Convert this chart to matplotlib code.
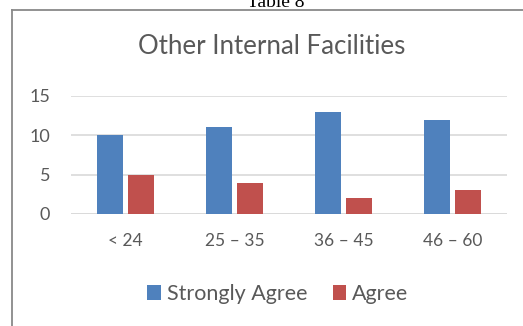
import matplotlib

matplotlib.use("Agg")
import matplotlib.pyplot as plt
import numpy as np
from matplotlib.lines import Line2D

categories = ["< 24", "25 – 35", "36 – 45", "46 – 60"]
strongly_agree = [10, 11, 13, 12]
agree = [5, 4, 2, 3]
y_ticks = [0, 5, 10, 15]

W, H = 523, 326
FONT = "Lato"
TEXT = "#595959"

fig = plt.figure(figsize=(W / 100, H / 100), dpi=100)

# chart frame: only the left and top edges show in the crop
frame_kw = dict(transform=fig.transFigure, color="#898989", lw=1.3)
fig.lines.append(Line2D([12 / W, 12 / W], [0, 1 - 10 / H], **frame_kw))
fig.lines.append(Line2D([12 / W, 1], [1 - 10 / H, 1 - 10 / H], **frame_kw))
fig.text(276 / W, 1 - 7 / H, "Table 8", ha="center", va="baseline",
         fontsize=14, family="Liberation Serif", color="black")

ax = fig.add_axes([71 / W, (H - 214) / H, (507 - 71) / W, (214 - 96) / H])
x = np.arange(len(categories))
bw = 0.23
gap = 0.055
ax.bar(x - (bw + gap) / 2, strongly_agree, width=bw, color="#4f81bd", label="Strongly Agree", zorder=3)
ax.bar(x + (bw + gap) / 2, agree, width=bw, color="#c0504d", label="Agree", zorder=3)

ax.set_xlim(-0.5, len(categories) - 0.5)
ax.set_ylim(0, 15)
ax.set_yticks(y_ticks)
ax.set_yticklabels([str(v) for v in y_ticks], fontsize=13, family=FONT, color=TEXT)
ax.set_xticks(x)
ax.set_xticklabels(categories, fontsize=12.5, family=FONT, color=TEXT)
ax.tick_params(length=0, pad=15, axis="y")
ax.tick_params(length=0, pad=14, axis="x")
ax.yaxis.grid(True, color="#d9d9d9", lw=1.2, zorder=0)
ax.set_axisbelow(True)
for s in ax.spines.values():
    s.set_visible(False)
ax.axhline(0, color="#d9d9d9", lw=1.2, zorder=1)

fig.text(272 / W, 1 - 47 / H, "Other Internal Facilities", ha="center", va="center",
         fontsize=18.6, family=FONT, color=TEXT)

fig.legend(loc="center", bbox_to_anchor=(278 / W, 1 - 294 / H), ncol=2, frameon=False,
           prop={"family": FONT, "size": 15.5}, labelcolor=TEXT, handlelength=0.65,
           handleheight=0.65, handletextpad=0.27, columnspacing=1.15)

fig.savefig("out.png", dpi=100)
